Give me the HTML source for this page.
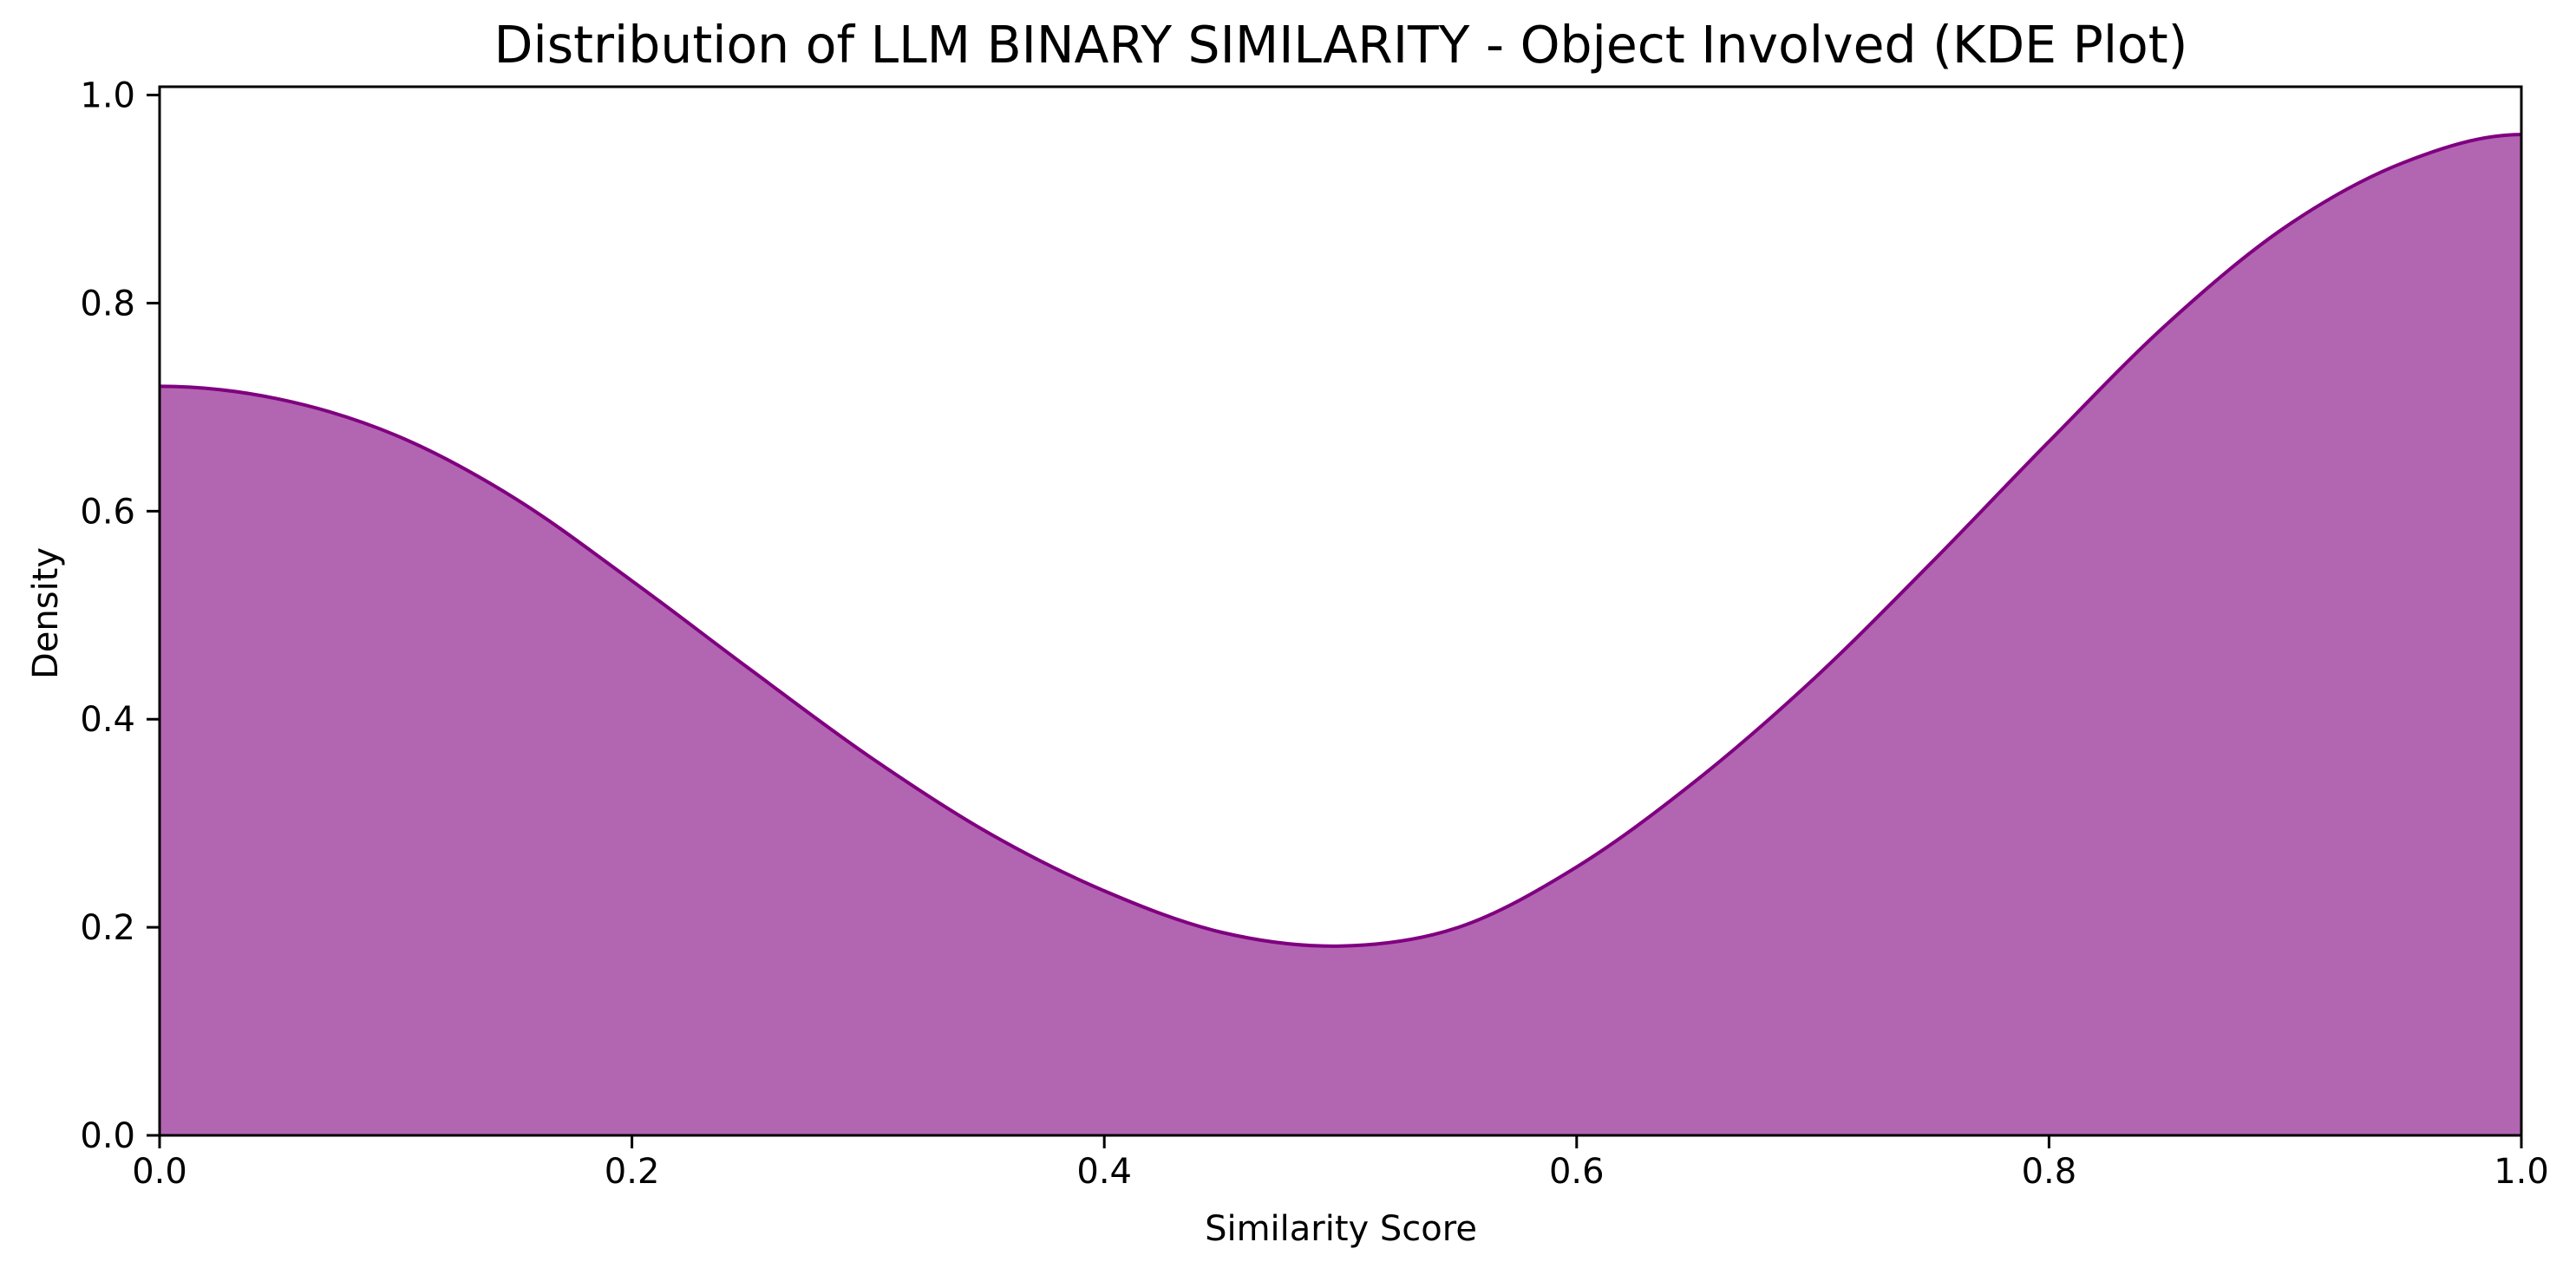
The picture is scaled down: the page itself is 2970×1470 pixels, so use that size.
<!DOCTYPE html>
<html><head><meta charset="utf-8"><style>
body{margin:0;background:#fff}
svg{display:block;font-family:"DejaVu Sans","Liberation Sans",sans-serif}
</style></head><body>
<svg width="2970" height="1470" viewBox="0 0 2970 1470">
<g id="plot"></g>
<text x="1546" y="72" font-size="58.4" text-anchor="middle">Distribution of LLM BINARY SIMILARITY - Object Involved (KDE Plot)</text>
<text x="1546" y="1430" font-size="40" text-anchor="middle">Similarity Score</text>
<text x="66" y="707" font-size="40" text-anchor="middle" transform="rotate(-90 66 707)">Density</text>
</svg>
<script>
const xs = [0,0.05,0.1,0.15,0.2,0.25,0.3,0.35,0.4,0.45,0.5,0.55,0.6,0.65,0.7,0.75,0.8,0.85,0.9,0.95,1.0];
const densities = [0.72,0.708,0.673,0.613,0.533,0.448,0.365,0.292,0.235,0.195,0.182,0.2,0.258,0.34,0.438,0.55,0.667,0.78,0.873,0.935,0.962];
const xTicks = [0,0.2,0.4,0.6,0.8,1.0];
const yTicks = [0,0.2,0.4,0.6,0.8,1.0];
const L=184,R=2907,T=100,B=1309,yMax=1.008;
const sx=v=>L+(R-L)*v, sy=v=>B-(B-T)*v/yMax;
const NS='http://www.w3.org/2000/svg';
const g=document.getElementById('plot');
function mk(t,a){const e=document.createElementNS(NS,t);for(const k in a)e.setAttribute(k,a[k]);g.appendChild(e);return e;}
const P=xs.map((x,i)=>[sx(x),sy(densities[i])]);
const n=P.length;
const m=P.map((p,i)=>{
  if(i===0||i===n-1) return 0;
  return (P[i+1][1]-P[i-1][1])/(P[i+1][0]-P[i-1][0]);
});
let d='M'+P[0][0]+','+P[0][1];
for(let i=0;i<n-1;i++){const h=P[i+1][0]-P[i][0];
d+=` C${P[i][0]+h/3},${P[i][1]+m[i]*h/3} ${P[i+1][0]-h/3},${P[i+1][1]-m[i+1]*h/3} ${P[i+1][0]},${P[i+1][1]}`;}
const area=mk('path',{d:d+` L${sx(1)},${sy(0)} L${sx(0)},${sy(0)} Z`,fill:'#b266b2'});


const line=mk('path',{d:d,fill:'none',stroke:'#800080','stroke-width':4});


const frame=mk('rect',{x:L,y:T,width:R-L,height:B-T,fill:'none',stroke:'#000','stroke-width':3});


xTicks.forEach(v=>{const x=sx(v);
const tk=mk('line',{x1:x,x2:x,y1:B,y2:B+15,stroke:'#000','stroke-width':3});


const t=mk('text',{x:x,y:B+55,'font-size':40,'text-anchor':'middle'});t.textContent=v.toFixed(1);

});
yTicks.forEach(v=>{const y=sy(v);
const tk=mk('line',{x1:L-15,x2:L,y1:y,y2:y,stroke:'#000','stroke-width':3});


const t=mk('text',{x:L-28,y:y+14,'font-size':40,'text-anchor':'end'});t.textContent=v.toFixed(1);

});
</script>
</body></html>
